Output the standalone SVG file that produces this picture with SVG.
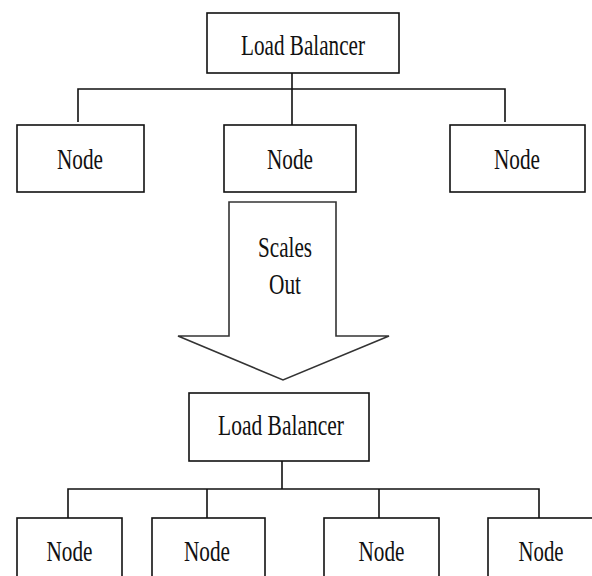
<svg xmlns="http://www.w3.org/2000/svg" width="592" height="576" viewBox="0 0 592 576">
<style>
.box{fill:#fff;stroke:#111;stroke-width:1.6}
.ln{fill:none;stroke:#111;stroke-width:1.6}
.t{font-family:"Liberation Serif","Times New Roman",serif;font-size:29px;fill:#111;text-anchor:middle}
.arrow{fill:#fff;stroke:#333;stroke-width:1.6;stroke-linejoin:miter}
</style>
<rect width="592" height="576" fill="#fff"/>
<g id="connectors">
<path class="ln" d="M292 73V125M78 122V89H505V122"/>
<path class="ln" d="M282 461V489M68 518V489H539V518M207 489V518M379 489V518"/>
</g>
<g id="lb1"><rect class="box" x="207" y="13" width="192" height="60"/><text class="t" x="303" y="55" textLength="124" lengthAdjust="spacingAndGlyphs">Load Balancer</text></g>
<g id="node1"><rect class="box" x="17" y="125" width="127" height="67"/><text class="t" x="80" y="169" textLength="46" lengthAdjust="spacingAndGlyphs">Node</text></g>
<g id="node2"><rect class="box" x="224" y="125" width="132" height="67"/><text class="t" x="290" y="169" textLength="46" lengthAdjust="spacingAndGlyphs">Node</text></g>
<g id="node3"><rect class="box" x="450" y="125" width="135" height="67"/><text class="t" x="517" y="169" textLength="46" lengthAdjust="spacingAndGlyphs">Node</text></g>
<g id="scales-arrow"><path class="arrow" d="M229 202H336V336H389L283 380L178 336H229Z"/><text class="t" x="285" y="257" textLength="54" lengthAdjust="spacingAndGlyphs">Scales</text><text class="t" x="285" y="294" textLength="32" lengthAdjust="spacingAndGlyphs">Out</text></g>
<g id="lb2"><rect class="box" x="189" y="393" width="180" height="68"/><text class="t" x="281" y="435" textLength="126" lengthAdjust="spacingAndGlyphs">Load Balancer</text></g>
<g id="node4"><rect class="box" x="17" y="518" width="105" height="80"/><text class="t" x="69.5" y="561" textLength="46" lengthAdjust="spacingAndGlyphs">Node</text></g>
<g id="node5"><rect class="box" x="152" y="518" width="113" height="80"/><text class="t" x="207" y="561" textLength="46" lengthAdjust="spacingAndGlyphs">Node</text></g>
<g id="node6"><rect class="box" x="324" y="518" width="115" height="80"/><text class="t" x="381.5" y="561" textLength="46" lengthAdjust="spacingAndGlyphs">Node</text></g>
<g id="node7"><rect class="box" x="488" y="518" width="115" height="80"/><text class="t" x="541" y="561" textLength="45" lengthAdjust="spacingAndGlyphs">Node</text></g>
</svg>
